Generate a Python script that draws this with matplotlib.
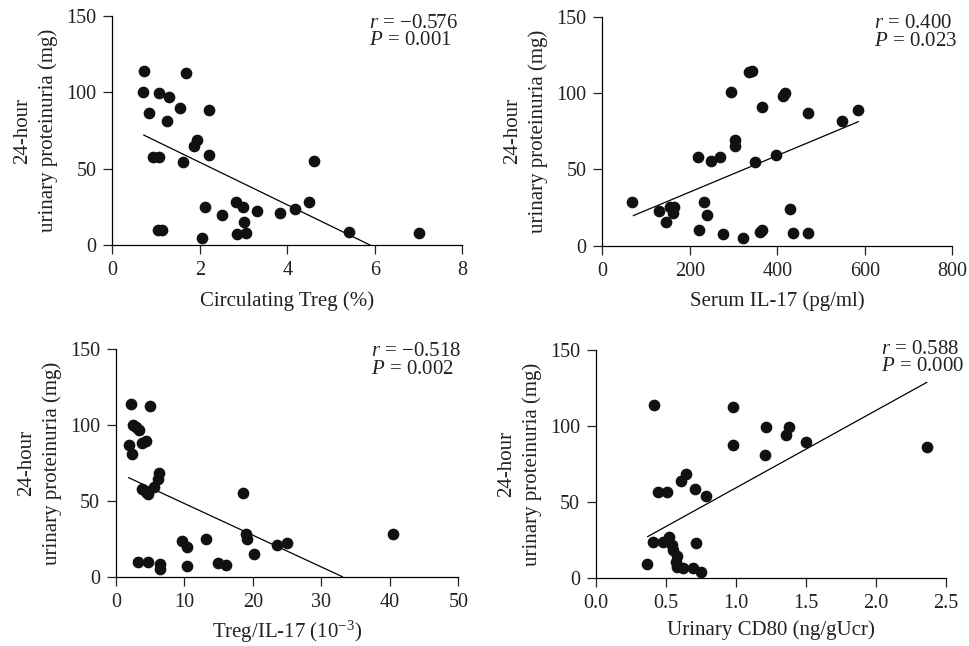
import numpy as np
import matplotlib
matplotlib.use("Agg")
import matplotlib.pyplot as plt

plt.rcParams['font.family'] = ['Liberation Serif', 'DejaVu Serif']
plt.rcParams['mathtext.fontset'] = 'custom'
plt.rcParams['mathtext.rm'] = 'Liberation Serif'
plt.rcParams['mathtext.it'] = 'Liberation Serif:italic'

# panel A: circulating Treg
treg_x = [0.73, 1.68, 0.70, 1.07, 1.30, 1.55, 2.20, 0.84, 1.26, 1.94, 1.87, 0.94,
          1.07, 2.22, 1.62, 4.62, 2.13, 2.50, 2.82, 2.99, 3.31, 3.84, 4.17, 4.49,
          3.00, 1.05, 1.14, 2.86, 3.05, 2.06, 5.42, 7.02]
treg_y = [114, 113, 100, 99.8, 97, 90, 88.4, 86.7, 81, 68.8, 64.8, 57.9,
          57.9, 59, 54.4, 55.2, 24.7, 19.4, 28.2, 24.9, 22, 20.7, 23.4, 27.9,
          14.8, 9.8, 9.8, 7.2, 7.6, 4.8, 8.7, 7.6]
treg_fit_x = [0.72, 5.89]
treg_fit_y = [72, 0]

# panel B: serum IL-17
il17_x = [335, 343, 293, 412, 417, 365, 469, 585, 547, 303, 303, 218, 248, 269,
          350, 396, 67, 130, 155, 164, 146, 162, 233, 240, 222, 276, 322, 360,
          366, 430, 435, 469]
il17_y = [113.8, 114.4, 100.7, 97.8, 100, 90.6, 87.1, 88.9, 81.7, 69.2, 65.3,
          58.1, 55.5, 58.1, 54.8, 59.4, 28.4, 22.5, 25.1, 25.1, 15.5, 21.2,
          28.4, 19.9, 10.3, 7.6, 5.2, 9.2, 10.3, 24, 8.1, 8.3]
il17_fit_x = [71, 585]
il17_fit_y = [19.7, 81.2]

# panel C: Treg/IL-17 ratio
ratio_x = [2.14, 5.01, 2.43, 2.87, 3.31, 3.85, 4.33, 1.85, 2.34, 6.33, 6.09, 5.55,
           3.85, 4.63, 4.33, 18.55, 9.64, 10.32, 13.1, 18.99, 19.09, 23.5, 25.0,
           20.2, 40.5, 3.16, 4.72, 6.48, 6.43, 10.32, 14.95, 16.07]
ratio_y = [113.7, 112.6, 99.8, 98.5, 96.8, 88.4, 89.7, 86.6, 80.9, 68.6, 64.7,
           58.9, 57.6, 54.3, 56.1, 55, 23.3, 19.6, 24.9, 28.2, 25.1, 20.7, 22,
           15, 27.9, 9.9, 9.9, 8.1, 5.1, 7.3, 8.8, 7.7]
ratio_fit_x = [1.85, 33.06]
ratio_fit_y = [65.3, 0]

# panel D: urinary CD80
cd80_x = [0.417, 0.976, 1.217, 1.355, 1.379, 0.976, 1.205, 1.498, 2.367, 0.645,
          0.605, 0.443, 0.507, 0.707, 0.786, 0.405, 0.481, 0.524, 0.541, 0.552,
          0.576, 0.570, 0.576, 0.624, 0.695, 0.748, 0.714, 0.366]
cd80_y = [113.6, 112.5, 99.2, 94.4, 99.6, 87.8, 80.8, 89.8, 86.3, 68.3,
          63.9, 56.9, 56.9, 58.5, 54.1, 24.0, 24.0, 27.3, 21.9, 18.6,
          14.7, 11.0, 7.6, 6.6, 6.6, 3.9, 23.0, 9.4]
cd80_fit_x = [0.369, 2.362]
cd80_fit_y = [27.4, 128.7]

panels = [
    dict(x=treg_x, y=treg_y, fx=treg_fit_x, fy=treg_fit_y,
         xlim=(0, 8), xticks=[0, 2, 4, 6, 8], xfmt='{:g}',
         xlabel='Circulating Treg (%)', r='\u22120.576', p='0.001',
         rect=[0.1159, 0.6207, 0.3612, 0.3545], tx=0.733, ty=1.01, lp=8),
    dict(x=il17_x, y=il17_y, fx=il17_fit_x, fy=il17_fit_y,
         xlim=(0, 800), xticks=[0, 200, 400, 600, 800], xfmt='{:g}',
         xlabel='Serum IL-17 (pg/ml)', r='0.400', p='0.023',
         rect=[0.6216, 0.6197, 0.3612, 0.3545], tx=0.776, ty=1.01, lp=8),
    dict(x=ratio_x, y=ratio_y, fx=ratio_fit_x, fy=ratio_fit_y,
         xlim=(0, 50), xticks=[0, 10, 20, 30, 40, 50], xfmt='{:g}',
         xlabel='Treg/IL-17 (10$^{\u22123}$)', r='\u22120.518', p='0.002',
         rect=[0.1197, 0.1073, 0.3533, 0.352], tx=0.744, ty=1.03, lp=5),
    dict(x=cd80_x, y=cd80_y, fx=cd80_fit_x, fy=cd80_fit_y,
         xlim=(0, 2.5), xticks=[0, 0.5, 1.0, 1.5, 2.0, 2.5], xfmt='{:.1f}',
         xlabel='Urinary CD80 (ng/gUcr)', r='0.588', p='0.000',
         rect=[0.6151, 0.1048, 0.3612, 0.3534], tx=0.813, ty=1.045, lp=5),
]

fig = plt.figure(figsize=(9.69, 6.46), dpi=100)

for pn in panels:
    ax = fig.add_axes(pn['rect'])
    ax.scatter(pn['x'], pn['y'], s=55, color='#111111', zorder=3, clip_on=False)
    ax.plot(pn['fx'], pn['fy'], color='black', lw=0.9)
    ax.set_xlim(*pn['xlim'])
    ax.set_ylim(0, 150)
    ax.set_xticks(pn['xticks'])
    ax.set_xticklabels([pn['xfmt'].format(v) for v in pn['xticks']])
    ax.set_yticks([0, 50, 100, 150])
    for side in ['top', 'right']:
        ax.spines[side].set_visible(False)
    for side in ['left', 'bottom']:
        ax.spines[side].set_linewidth(0.9)
    ax.tick_params(direction='out', length=6.5, width=0.9, labelsize=14.5,
                   pad=5, colors='#222222')
    ax.set_xlabel(pn['xlabel'], fontsize=15, labelpad=pn['lp'], color='#222222')
    ax.set_ylabel('24-hour\nurinary proteinuria (mg)', fontsize=15,
                  labelpad=6, linespacing=1.4, color='#222222')
    ax.text(pn['tx'], pn['ty'],
            '$r$ = ' + pn['r'] + '\n$P$ = ' + pn['p'],
            transform=ax.transAxes, ha='left', va='top', fontsize=15,
            linespacing=0.9, color='#222222')

fig.savefig('out.png', dpi=100)
